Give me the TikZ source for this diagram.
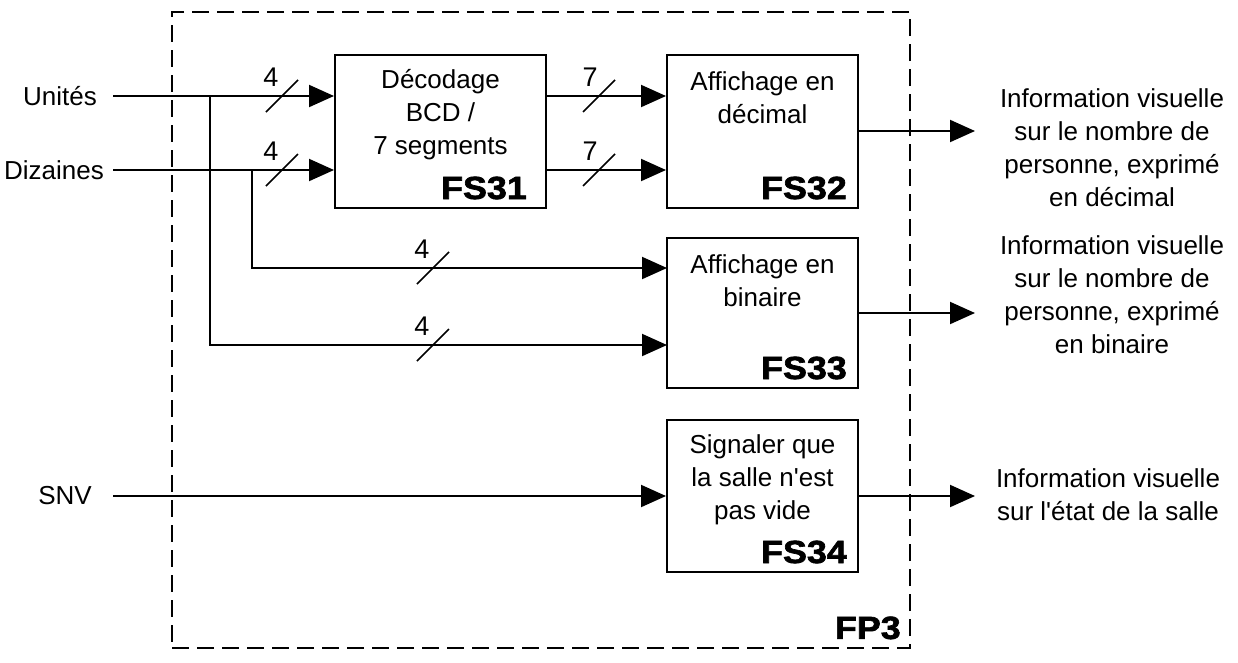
\documentclass[tikz,border=0pt]{standalone}
\usepackage{fontspec}
\setmainfont{Liberation Sans}
\newfontfamily\heavyfont[FakeStretch=1.12,FakeBold=2]{Liberation Sans}
\usetikzlibrary{arrows.meta,calc}
\tikzset{
  fbox/.style={draw, line width=2pt, inner sep=0pt},
  txt/.style={align=center, inner sep=0pt, font=\fontsize{26}{33}\selectfont},
  numtxt/.style={inner sep=0pt, font=\fontsize{27}{33}\selectfont},
  lbl/.style={inner sep=0pt, font=\fontsize{32}{36}\selectfont\heavyfont\bfseries},
  arr/.style={line width=2pt, -{Triangle[length=25pt,width=22pt]}},
  busline/.style={line width=1.6pt},
}
\newcommand{\busmark}[5]{% name, x, y, label, label offset
  \draw[busline] (#2-16,#3+16) -- (#2+16,#3-16);
  \node[numtxt] (#1) at (#2-#5,#3-19) {#4};
}
\begin{document}
\begin{tikzpicture}[x=1pt,y=-1pt]
\useasboundingbox (0,0) rectangle (1238,662);
% outer dashed frame
\node[draw, line width=1.8pt, dash pattern=on 17pt off 8pt, minimum width=738pt, minimum height=636pt, inner sep=0pt] (fp3) at (541,330) {};
\node[lbl, anchor=base east] (fp3lbl) at ([shift={(-10,-10)}]fp3.south east) {FP3};

% function boxes
\node[fbox, minimum width=211pt, minimum height=153pt] (fs31) at (440.5,131.5) {};
\node[fbox, minimum width=191pt, minimum height=153pt] (fs32) at (762.5,131.5) {};
\node[fbox, minimum width=191pt, minimum height=150pt] (fs33) at (762.5,313) {};
\node[fbox, minimum width=191pt, minimum height=152pt] (fs34) at (762.5,496) {};

\node[txt] (t31) at (440.5,115) {Décodage\\BCD /\\7 segments};
\node[txt] (t32) at (762.5,98) {Affichage en\\décimal};
\node[txt] (t33) at (762.5,281) {Affichage en\\binaire};
\node[txt] (t34) at (762.5,480) {Signaler que\\la salle n\textquotesingle est\\pas vide};

\node[lbl, anchor=base east] (l31) at ([shift={(-20,-10)}]fs31.south east) {FS31};
\node[lbl, anchor=base east] (l32) at ([shift={(-12,-10)}]fs32.south east) {FS32};
\node[lbl, anchor=base east] (l33) at ([shift={(-12,-10)}]fs33.south east) {FS33};
\node[lbl, anchor=base east] (l34) at ([shift={(-12,-10)}]fs34.south east) {FS34};

% inputs
\node[txt, anchor=east] (unites) at (97,96) {Unités};
\node[txt, anchor=east] (dizaines) at (104,170) {Dizaines};
\node[txt, anchor=east] (snv) at (92,496) {SNV};
\coordinate (uS) at (113,96);
\coordinate (dS) at (113,170);
\coordinate (sS) at (113,496);
\coordinate (j1) at (210,96);
\coordinate (j2) at (252,170);
\coordinate (in33a) at (667,268);
\coordinate (in33b) at (667,345);

\draw[arr] (uS) -- (uS -| fs31.west);
\draw[arr] (dS) -- (dS -| fs31.west);
\draw[arr] (sS) -- (sS -| fs34.west);
\draw[arr] (j2) |- (in33a);
\draw[arr] (j1) |- (in33b);

% FS31 -> FS32
\draw[arr] (fs31.east |- uS) -- (fs32.west |- uS);
\draw[arr] (fs31.east |- dS) -- (fs32.west |- dS);

% bus marks
\busmark{b1}{282}{96}{4}{11}
\busmark{b2}{282}{170}{4}{11}
\busmark{b3}{599}{96}{7}{9}
\busmark{b4}{599}{170}{7}{9}
\busmark{b5}{433}{268}{4}{11}
\busmark{b6}{433}{345}{4}{11}

% outputs
\node[txt] (o32) at (1112,148) {Information visuelle\\sur le nombre de\\personne, exprimé\\en décimal};
\node[txt] (o33) at (1112,295) {Information visuelle\\sur le nombre de\\personne, exprimé\\en binaire};
\node[txt] (o34) at (1108,495) {Information visuelle\\sur l\textquotesingle état de la salle};
\coordinate (e32) at (975,131);
\coordinate (e33) at (975,313);
\coordinate (e34) at (975,496);
\draw[arr] (fs32.east |- e32) -- (e32);
\draw[arr] (fs33.east |- e33) -- (e33);
\draw[arr] (fs34.east |- e34) -- (e34);
\end{tikzpicture}
\end{document}
